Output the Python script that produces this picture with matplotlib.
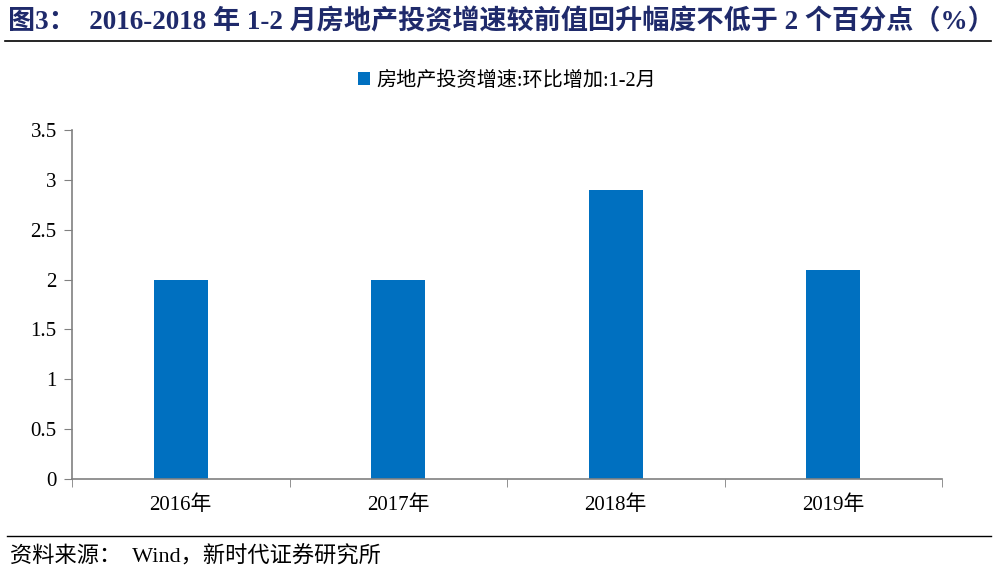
import matplotlib.pyplot as plt
from matplotlib.lines import Line2D

plt.rcParams['font.family'] = ['Liberation Serif', 'Noto Sans CJK SC']

# 数据
years = ['2016年', '2017年', '2018年', '2019年']
growth_add = [2.0, 2.0, 2.9, 2.1]
series_name = '房地产投资增速:环比增加:1-2月'
title = '图3：  2016-2018 年 1-2 月房地产投资增速较前值回升幅度不低于 2 个百分点（%）'
source = '资料来源：  Wind，新时代证券研究所'

fig = plt.figure(figsize=(9.96, 5.78), dpi=100)
ax = fig.add_axes([72 / 996, 1 - 479 / 578, 870 / 996, 349 / 578])

x = range(len(years))
ax.bar(x, growth_add, width=0.25, color='#0070C0', label=series_name)

ax.set_xlim(-0.5, len(years) - 0.5)
ax.set_ylim(0, 3.5)
ax.set_yticks([0, 0.5, 1, 1.5, 2, 2.5, 3, 3.5])
ax.set_yticklabels(['0', '0.5', '1', '1.5', '2', '2.5', '3', '3.5'])
ax.set_xticks(list(x))
ax.set_xticklabels(years)
ax.set_xticks([i - 0.5 for i in range(len(years) + 1)], minor=True)

for s in ['top', 'right']:
    ax.spines[s].set_visible(False)
for s in ['left', 'bottom']:
    ax.spines[s].set_color('#808080')
    ax.spines[s].set_linewidth(1.2)
ax.tick_params(axis='y', direction='out', length=6, color='#808080', labelsize=15, pad=5)
ax.tick_params(axis='x', which='major', length=0, labelsize=15, pad=12)
ax.tick_params(axis='x', which='minor', direction='out', length=6, color='#808080')

# 凡例
ax.legend(loc='center', bbox_to_anchor=(0.5, 1 + 49 / 349), frameon=False,
          fontsize=14.5, handlelength=0.6, handleheight=0.6, handletextpad=0.3)

# タイトル・出典
fig.text(8 / 996, 1 - 22 / 578, title, fontsize=19.5, fontweight='bold',
         color='#1F2A6B', va='center', ha='left')
fig.add_artist(Line2D([5 / 996, 991 / 996], [1 - 41 / 578, 1 - 41 / 578],
                      color='black', linewidth=1.2, transform=fig.transFigure))
fig.add_artist(Line2D([7 / 996, 991 / 996], [1 - 536 / 578, 1 - 536 / 578],
                      color='black', linewidth=1.0, transform=fig.transFigure))
fig.text(10 / 996, 1 - 557 / 578, source, fontsize=16, color='black',
         va='center', ha='left')

fig.savefig('out.png', dpi=100)
